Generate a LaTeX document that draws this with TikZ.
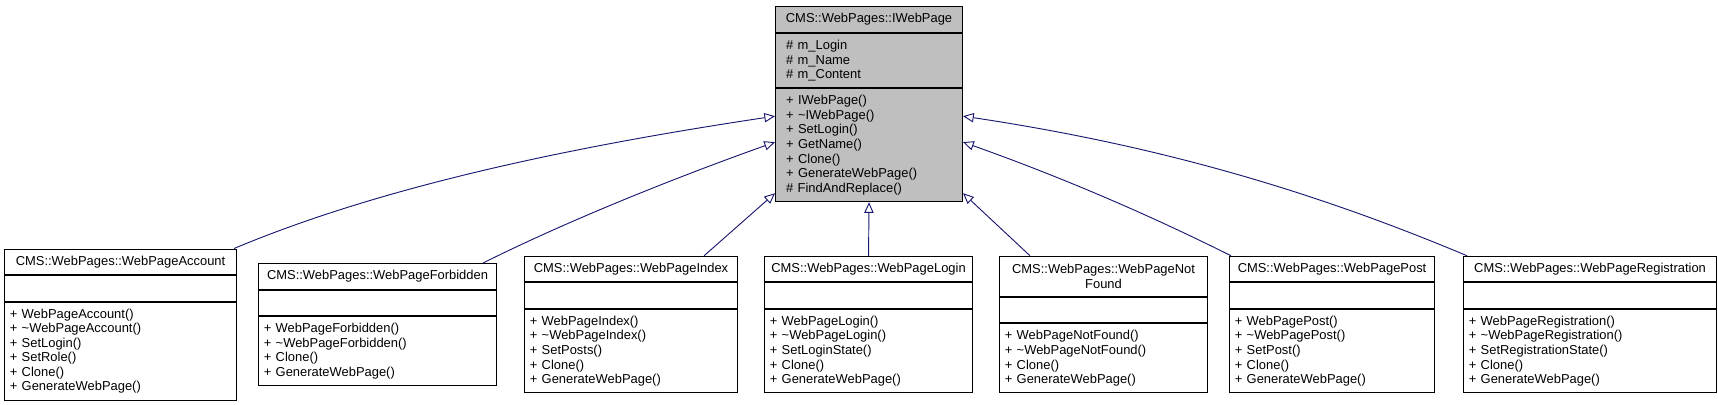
\documentclass[tikz,border=0pt]{standalone}
\usepackage{fontspec}
\setmainfont{Liberation Sans}
\usetikzlibrary{calc,arrows.meta}
\definecolor{edgeblue}{HTML}{191970}
\definecolor{mainfill}{HTML}{BFBFBF}
\tikzset{
  boxline/.style={draw=black, line width=0.8pt},
  ttl/.style={boxline, fill=white, anchor=north west, inner xsep=0pt, inner ysep=0pt, align=center},
  cmp/.style={boxline, fill=white, anchor=north west, inner xsep=4pt, inner ysep=0pt, align=left},
  topttl/.style={ttl, fill=mainfill},
  topcmp/.style={cmp, fill=mainfill, inner xsep=8pt},
  edge/.style={draw=edgeblue, line width=0.7pt, -{Triangle[open, length=8pt, width=7pt]}},
}
\begin{document}
\begin{tikzpicture}[x=0.75pt, y=-0.75pt,
  every node/.style={font=\fontsize{9.7pt}{10.9pt}\selectfont}]
\useasboundingbox (0,0) rectangle (1718,404);

% main class
\node[topttl, text width=140.25pt, minimum height=19.5pt] (top-t) at (775,6) {CMS::WebPages::IWebPage};
\node[topcmp, text width=124.25pt, minimum height=40.5pt] (top-a) at (top-t.south west) {\# m\_Login\\\# m\_Name\\\# m\_Content};
\node[topcmp, text width=124.25pt, minimum height=84.75pt] (top-m) at (top-a.south west) {+ IWebPage()\\+ \textasciitilde IWebPage()\\+ SetLogin()\\+ GetName()\\+ Clone()\\+ GenerateWebPage()\\\# FindAndReplace()};

% WebPageAccount
\node[ttl, text width=174pt, minimum height=19.125pt] (acc-t) at (4,248.5) {CMS::WebPages::WebPageAccount};
\node[cmp, text width=166pt, minimum height=19.125pt] (acc-a) at (acc-t.south west) {};
\node[cmp, text width=166pt, minimum height=73.5pt] (acc-m) at (acc-a.south west) {+ WebPageAccount()\\+ \textasciitilde WebPageAccount()\\+ SetLogin()\\+ SetRole()\\+ Clone()\\+ GenerateWebPage()};

% WebPageForbidden
\node[ttl, text width=178.5pt, minimum height=19.125pt] (forb-t) at (258,263) {CMS::WebPages::WebPageForbidden};
\node[cmp, text width=170.5pt, minimum height=19.125pt] (forb-a) at (forb-t.south west) {};
\node[cmp, text width=170.5pt, minimum height=51.75pt] (forb-m) at (forb-a.south west) {+ WebPageForbidden()\\+ \textasciitilde WebPageForbidden()\\+ Clone()\\+ GenerateWebPage()};

% WebPageIndex
\node[ttl, text width=159.75pt, minimum height=19.125pt] (idx-t) at (524,255.75) {CMS::WebPages::WebPageIndex};
\node[cmp, text width=151.75pt, minimum height=19.125pt] (idx-a) at (idx-t.south west) {};
\node[cmp, text width=151.75pt, minimum height=62.625pt] (idx-m) at (idx-a.south west) {+ WebPageIndex()\\+ \textasciitilde WebPageIndex()\\+ SetPosts()\\+ Clone()\\+ GenerateWebPage()};

% WebPageLogin
\node[ttl, text width=156pt, minimum height=19.125pt] (login-t) at (764,255.75) {CMS::WebPages::WebPageLogin};
\node[cmp, text width=148pt, minimum height=19.125pt] (login-a) at (login-t.south west) {};
\node[cmp, text width=148pt, minimum height=62.625pt] (login-m) at (login-a.south west) {+ WebPageLogin()\\+ \textasciitilde WebPageLogin()\\+ SetLoginState()\\+ Clone()\\+ GenerateWebPage()};

% WebPageNotFound
\node[ttl, text width=156pt, minimum height=30pt] (nf-t) at (999,255.75) {CMS::WebPages::WebPageNot\\Found};
\node[cmp, text width=148pt, minimum height=19.125pt] (nf-a) at (nf-t.south west) {};
\node[cmp, text width=148pt, minimum height=51.75pt] (nf-m) at (nf-a.south west) {+ WebPageNotFound()\\+ \textasciitilde WebPageNotFound()\\+ Clone()\\+ GenerateWebPage()};

% WebPagePost
\node[ttl, text width=153.75pt, minimum height=19.125pt] (post-t) at (1229,255.75) {CMS::WebPages::WebPagePost};
\node[cmp, text width=145.75pt, minimum height=19.125pt] (post-a) at (post-t.south west) {};
\node[cmp, text width=145.75pt, minimum height=62.625pt] (post-m) at (post-a.south west) {+ WebPagePost()\\+ \textasciitilde WebPagePost()\\+ SetPost()\\+ Clone()\\+ GenerateWebPage()};

% WebPageRegistration
\node[ttl, text width=189.75pt, minimum height=19.125pt] (reg-t) at (1463,255.75) {CMS::WebPages::WebPageRegistration};
\node[cmp, text width=181.75pt, minimum height=19.125pt] (reg-a) at (reg-t.south west) {};
\node[cmp, text width=181.75pt, minimum height=62.625pt] (reg-m) at (reg-a.south west) {+ WebPageRegistration()\\+ \textasciitilde WebPageRegistration()\\+ SetRegistrationState()\\+ Clone()\\+ GenerateWebPage()};

% connector end points
\coordinate (e1s) at ($(acc-t.north east)+(-3,0)$);
\coordinate (e1e) at ($(top-m.north west)+(0,28)$);
\coordinate (e2s) at ($(forb-t.north east)+(-14,0)$);
\coordinate (e2e) at ($(top-m.north west)+(0,54)$);
\coordinate (e3s) at ($(idx-t.north east)+(-34,0)$);
\coordinate (e3e) at ($(top-m.south west)+(0,-9)$);
\coordinate (e5s) at ($(nf-t.north west)+(31,0)$);
\coordinate (e5e) at ($(top-m.south east)+(0,-9)$);
\coordinate (e6s) at ($(post-t.north west)+(2,0)$);
\coordinate (e6e) at ($(top-m.north east)+(0,54)$);
\coordinate (e7s) at ($(reg-t.north west)+(4,0)$);
\coordinate (e7e) at ($(top-m.north east)+(0,28)$);

\draw[edge] (e1s) .. controls ($(e1s)+(150,-63)$) and ($(e1e)+(-200,30)$) .. (e1e);
\draw[edge] (e2s) .. controls ($(e2s)+(90,-45)$) and ($(e2e)+(-90,32)$) .. (e2e);
\draw[edge] (e3s) -- (e3e);
\draw[edge] (login-t.north) -- (top-m.south);
\draw[edge] (e5s) -- (e5e);
\draw[edge] (e6s) .. controls ($(e6s)+(-90,-45)$) and ($(e6e)+(90,32)$) .. (e6e);
\draw[edge] (e7s) .. controls ($(e7s)+(-150,-63)$) and ($(e7e)+(200,30)$) .. (e7e);
\end{tikzpicture}
\end{document}
